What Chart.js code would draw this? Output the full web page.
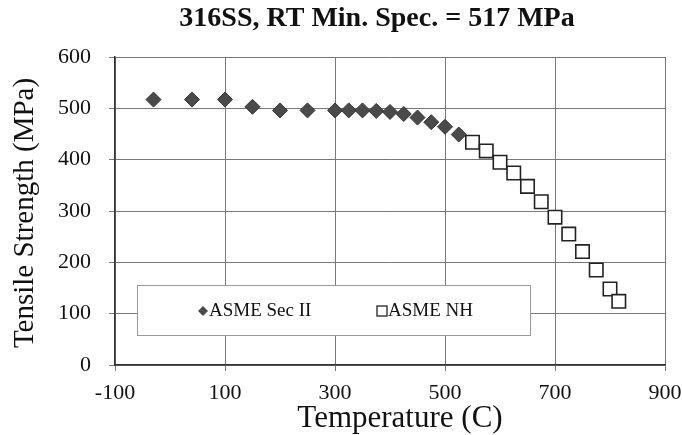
<!DOCTYPE html>
<html lang="en">
<head>
  <meta charset="UTF-8" />
  <title>316SS Tensile Strength</title>
  <script src="https://cdn.jsdelivr.net/npm/chart.js"></script>
  <style>
    html, body {
      margin: 0;
      padding: 0;
      background: #fff;
    }
    #wrap {
      position: relative;
      width: 682px;
      height: 435px;
    }
  </style>
</head>
<body>
  <div id="wrap"><canvas id="chart" width="682" height="435"></canvas></div>

  <script>
    // ASME Sec II values (diamonds)
    const secIITemps = [-30, 40, 100, 150, 200, 250, 300, 325, 350, 375, 400, 425, 450, 475, 500, 525];
    const secIIStrength = [517, 517, 517, 503, 496, 496, 496, 496, 496, 495, 493, 489, 482, 473, 464, 449];

    // ASME NH values (open squares)
    const nhTemps = [550, 575, 600, 625, 650, 675, 700, 725, 750, 775, 800, 816];
    const nhStrength = [434, 417, 395, 374, 348, 318, 288, 255, 221, 185, 148, 124];

    const xTicks = [-100, 100, 300, 500, 700, 900];
    const yTicks = [0, 100, 200, 300, 400, 500, 600];

    const chartTitle = '316SS, RT Min. Spec. = 517 MPa';
    const xTitle = 'Temperature (C)';
    const yTitle = 'Tensile Strength (MPa)';

    const serif = "'Liberation Serif', 'Times New Roman', serif";

    function toPoints(xs, ys) {
      return xs.map((t, i) => ({ x: t, y: ys[i] }));
    }

    // chart title + axis titles, placed by hand to follow the scanned figure
    const titlesPlugin = {
      id: 'titles',
      afterDraw(chart) {
        const { ctx, chartArea } = chart;
        const midX = (chartArea.left + chartArea.right) / 2;
        const midY = (chartArea.top + chartArea.bottom) / 2;
        ctx.save();
        ctx.fillStyle = '#111';
        ctx.textAlign = 'center';
        ctx.textBaseline = 'alphabetic';

        ctx.font = "bold 28px " + serif;
        ctx.fillText(chartTitle, midX - 13, 26);

        ctx.font = "31px " + serif;
        ctx.fillText(xTitle, midX + 10, 427);

        ctx.translate(33, midY + 2);
        ctx.rotate(-Math.PI / 2);
        ctx.font = "29px " + serif;
        ctx.fillText(yTitle, 0, 0);
        ctx.restore();
      }
    };

    // boxed legend inside the plot
    const legendPlugin = {
      id: 'boxLegend',
      afterDatasetsDraw(chart) {
        const { ctx, chartArea } = chart;
        const left = chartArea.left + 22;
        const top = chartArea.top + 228;
        const w = 393, h = 50;
        ctx.save();
        ctx.fillStyle = '#fff';
        ctx.strokeStyle = '#999';
        ctx.lineWidth = 1;
        ctx.fillRect(left, top, w, h);
        ctx.strokeRect(left + 0.5, top + 0.5, w, h);

        ctx.font = "19px " + serif;
        ctx.textBaseline = 'middle';
        const cy = top + 26;

        // diamond
        const ds0 = chart.data.datasets[0];
        const dx = left + 66;
        ctx.beginPath();
        ctx.moveTo(dx, cy - 5);
        ctx.lineTo(dx + 5, cy);
        ctx.lineTo(dx, cy + 5);
        ctx.lineTo(dx - 5, cy);
        ctx.closePath();
        ctx.fillStyle = ds0.backgroundColor;
        ctx.fill();
        ctx.fillStyle = '#111';
        ctx.textAlign = 'left';
        ctx.fillText(ds0.label, dx + 6, cy);

        // square
        const ds1 = chart.data.datasets[1];
        const sx = left + 245;
        ctx.strokeStyle = '#222';
        ctx.lineWidth = 1.3;
        ctx.strokeRect(sx - 5, cy - 5, 10, 10);
        ctx.fillText(ds1.label, sx + 6, cy);
        ctx.restore();
      }
    };

    new Chart(document.getElementById('chart').getContext('2d'), {
      type: 'scatter',
      data: {
        datasets: [
          {
            label: 'ASME Sec II',
            data: toPoints(secIITemps, secIIStrength),
            pointStyle: 'rectRot',
            pointRadius: 7.5,
            backgroundColor: '#4a4a4a',
            borderColor: '#333',
            borderWidth: 1
          },
          {
            label: 'ASME NH',
            data: toPoints(nhTemps, nhStrength),
            pointStyle: 'rect',
            pointRadius: 9.5,
            backgroundColor: '#fff',
            borderColor: '#222',
            borderWidth: 1.6
          }
        ]
      },
      options: {
        responsive: false,
        animation: false,
        events: [],
        layout: { padding: { top: 57, right: 17, left: 0, bottom: 0 } },
        plugins: {
          legend: { display: false },
          tooltip: { enabled: false }
        },
        scales: {
          x: {
            type: 'linear',
            min: -100,
            max: 900,
            afterBuildTicks: s => { s.ticks = xTicks.map(v => ({ value: v })); },
            afterFit: s => { s.height = 70; s.paddingLeft = 0; s.paddingRight = 0; },
            grid: { color: '#777', lineWidth: 1, tickLength: 6, tickColor: '#777' },
            border: { color: '#333', width: 1.5 },
            ticks: { color: '#111', font: { family: serif, size: 22 }, padding: 9 }
          },
          y: {
            type: 'linear',
            min: 0,
            max: 600,
            afterBuildTicks: s => { s.ticks = yTicks.map(v => ({ value: v })); },
            afterFit: s => { s.width = 115; s.paddingTop = 0; s.paddingBottom = 0; },
            grid: { color: '#777', lineWidth: 1, tickLength: 6, tickColor: '#777' },
            border: { color: '#333', width: 1.5 },
            ticks: { color: '#111', font: { family: serif, size: 22 }, padding: 18 }
          }
        }
      },
      plugins: [legendPlugin, titlesPlugin]
    });
  </script>
</body>
</html>
